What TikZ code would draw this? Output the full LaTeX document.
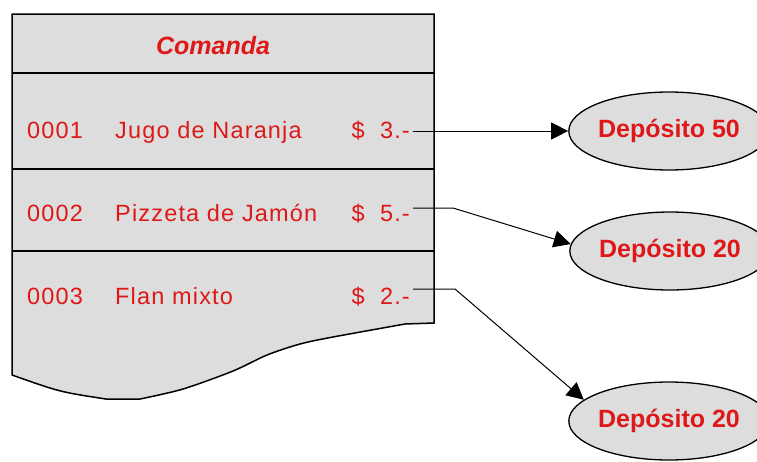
\documentclass[tikz,border=0pt]{standalone}
\usepackage{fontspec}
\setmainfont{Liberation Sans}
\usetikzlibrary{shapes.geometric,arrows.meta}
\definecolor{txtred}{RGB}{222,24,24}
\definecolor{boxgray}{RGB}{221,221,221}
\newfontfamily\rowfont[LetterSpace=5]{Liberation Sans}
\tikzset{
  rowtxt/.style={anchor=base west,inner sep=0pt,text=txtred,font=\rowfont\fontsize{23.5}{27}\selectfont},
  pricetxt/.style={anchor=base east,inner sep=0pt,text=txtred,font=\rowfont\fontsize{23.5}{27}\selectfont},
  deposito/.style={ellipse,draw=black,line width=1.3pt,fill=boxgray,minimum width=174pt,minimum height=78pt,inner sep=0pt,text=txtred,font=\bfseries\fontsize{25}{28}\selectfont},
  conn/.style={draw=black,line width=1pt,-{Triangle[length=17pt,width=17pt]}},
  boxline/.style={draw=black,line width=1.5pt}
}
\begin{document}
\begin{tikzpicture}[x=1pt,y=-1pt]
\useasboundingbox (0,0) rectangle (757,461);
% comanda box
\path[boxline,fill=boxgray] (12,14) -- (434,14) -- (434,323) -- (405,324)
  -- plot[smooth] coordinates {(405,324) (333,337) (300,344) (267,355) (233,371) (183,389) (140,399)}
  -- (106,399) .. controls (60,392) .. (12,375) -- cycle;
\draw[boxline] (12,73) -- (434,73);
\draw[boxline] (12,169) -- (434,169);
\draw[boxline] (12,251) -- (434,251);
\node[text=txtred,font=\bfseries\itshape\fontsize{25}{29}\selectfont,inner sep=0pt] (title) at (213,46) {Comanda};
% rows
\node[rowtxt] (n1) at (27,138) {0001};
\node[rowtxt] (d1) at (115,138) {Jugo de Naranja};
\node[pricetxt] (p1) at (410,138) {\$ \ 3.-};
\node[rowtxt] (n2) at (27,221) {0002};
\node[rowtxt] (d2) at (115,221) {Pizzeta de Jamón};
\node[pricetxt] (p2) at (410,221) {\$ \ 5.-};
\node[rowtxt] (n3) at (27,304) {0003};
\node[rowtxt] (d3) at (115,304) {Flan mixto};
\node[pricetxt] (p3) at (410,304) {\$ \ 2.-};
% deposits
\node[deposito] (e1) at (669,131) {Depósito 50};
\node[deposito] (e2) at (670,251) {Depósito 20};
\node[deposito] (e3) at (669,421) {Depósito 20};
% connectors
\coordinate (s1) at (413,131);
\coordinate (s2) at (413,208);
\coordinate (b2) at (453,208);
\coordinate (s3) at (413,289);
\coordinate (b3) at (455,289);
\draw[conn] (s1) -- (e1.west);
\draw[conn] (s2) -- (b2) -- (e2.176);
\draw[conn] (s3) -- (b3) -- (e3.166);
\end{tikzpicture}
\end{document}
